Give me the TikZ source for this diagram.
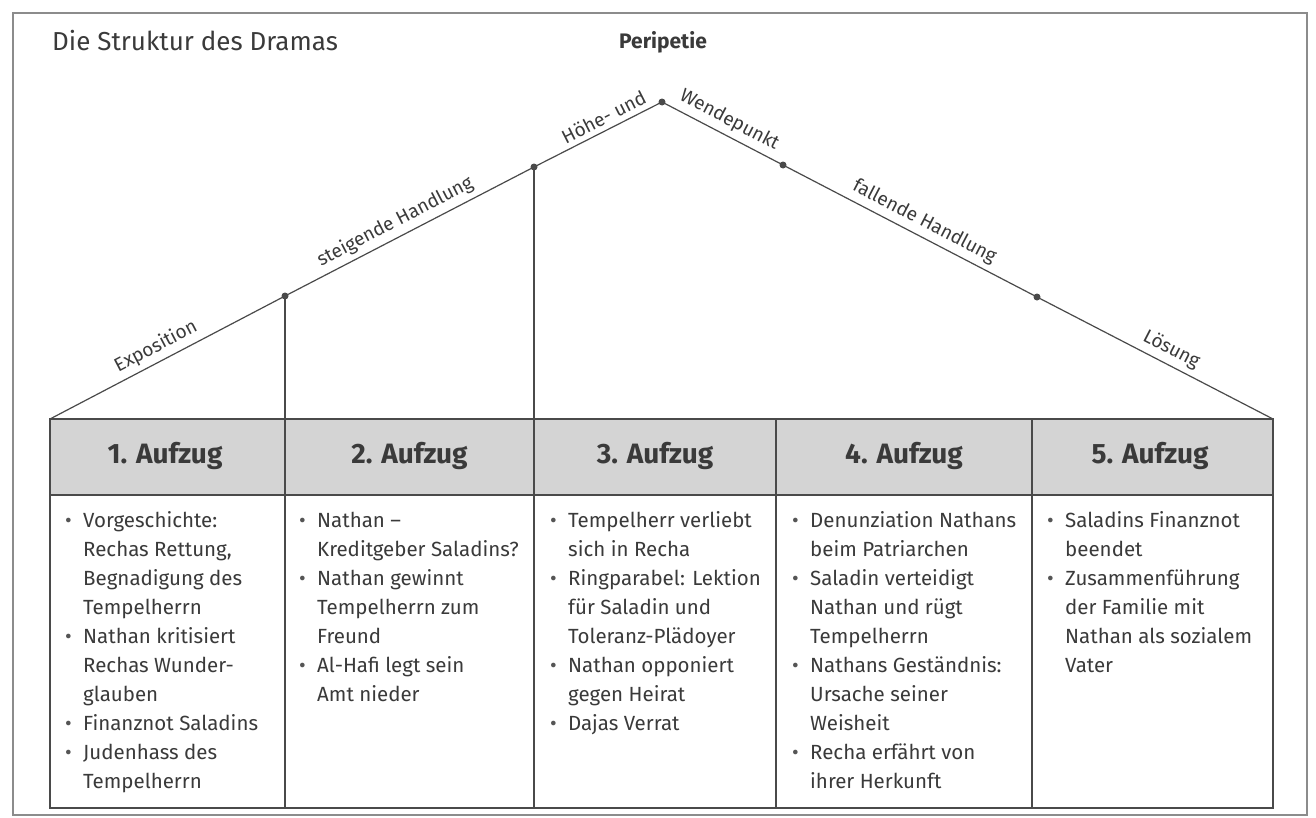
\documentclass[tikz,border=0pt]{standalone}
\usepackage{fontspec}
\setmainfont{Fira Sans}
\definecolor{txt}{HTML}{3A3A3A}
\definecolor{lnc}{HTML}{4A4A4A}
\definecolor{framec}{HTML}{8C8C8C}
\definecolor{headc}{HTML}{D4D4D4}
\definecolor{bulc}{HTML}{555555}
\newcommand\bul{\makebox[18pt][l]{\textcolor{bulc}{•}}}
\newcommand\ind{\hspace*{18pt}}
\newcommand\fst{\rule{0pt}{16pt}}
\tikzset{
  ln/.style={draw=lnc, line width=1.2pt},
  dot/.style={circle, fill=lnc, inner sep=0pt, minimum size=7pt},
  lbl/.style={sloped, above, inner sep=5pt, text=txt, font=\fontsize{19}{21}\selectfont},
  body/.style={anchor=north west, inner sep=0pt, align=left, text=txt, font=\fontsize{20.5}{29}\selectfont},
  hdr/.style={anchor=base, inner sep=0pt, text=txt, font=\fontsize{28}{32}\selectfont\bfseries},
}
\begin{document}
\begin{tikzpicture}[x=1pt,y=-1pt]
\useasboundingbox (0,0) rectangle (1316,817);
\fill[white] (0,0) rectangle (1316,817);
\draw[framec, line width=2.2pt] (13,13) rectangle (1307,815);
% title
\node[anchor=base west, inner sep=0pt, text=txt, font=\fontsize{26}{30}\selectfont] (title) at (52,50) {Die Struktur des Dramas};
\node[anchor=base, inner sep=0pt, text=txt, font=\fontsize{21}{24}\selectfont\bfseries] (peri) at (663,48) {Peripetie};
% table
\coordinate (L) at (50,419);
\coordinate (R) at (1273,419);
\fill[headc] (50,419) rectangle (1273,495);
\draw[ln] (50,419) rectangle (1273,808);
\draw[ln] (50,495) -- (1273,495);
% dots
\node[dot] (d1) at (285,296) {};
\node[dot] (d2) at (534,167) {};
\node[dot] (ap) at (662,102) {};
\node[dot] (d3) at (783,165) {};
\node[dot] (d4) at (1037,297) {};
% column dividers
\draw[ln] (d1.center) -- (285,808);
\draw[ln] (d2.center) -- (534,808);
\draw[ln] (776,419) -- (776,808);
\draw[ln] (1032,419) -- (1032,808);
% slope
\draw[ln] (L) -- node[lbl,pos=.48]{Exposition} (d1.center)
  -- node[lbl,pos=.47]{steigende Handlung} (d2.center)
  -- node[lbl,pos=.59]{Höhe- und} (ap.center)
  -- node[lbl,pos=.5]{Wendepunkt} (d3.center)
  -- node[lbl,pos=.53]{fallende Handlung} (d4.center)
  -- node[lbl,pos=.54]{Lösung} (R);
% headers
\node[hdr] (h1) at (165,463) {1. Aufzug};
\node[hdr] (h2) at (409.5,463) {2. Aufzug};
\node[hdr] (h3) at (655,463) {3. Aufzug};
\node[hdr] (h4) at (904,463) {4. Aufzug};
\node[hdr] (h5) at (1150,463) {5. Aufzug};
% bodies
\node[body] (b1) at (65,511) {\fst\bul Vorgeschichte:\\\ind Rechas Rettung,\\\ind Begnadigung des\\\ind Tempelherrn\\\bul Nathan kritisiert\\\ind Rechas Wunder-\\\ind glauben\\\bul Finanznot Saladins\\\bul Judenhass des\\\ind Tempelherrn};
\node[body] (b2) at (299,511) {\fst\bul Nathan –\\\ind Kreditgeber Saladins?\\\bul Nathan gewinnt\\\ind Tempelherrn zum\\\ind Freund\\\bul Al-Hafi legt sein\\\ind Amt nieder};
\node[body] (b3) at (550,511) {\fst\bul Tempelherr verliebt\\\ind sich in Recha\\\bul Ringparabel: Lektion\\\ind für Saladin und\\\ind Toleranz-Plädoyer\\\bul Nathan opponiert\\\ind gegen Heirat\\\bul Dajas Verrat};
\node[body] (b4) at (792,511) {\fst\bul Denunziation Nathans\\\ind beim Patriarchen\\\bul Saladin verteidigt\\\ind Nathan und rügt\\\ind Tempelherrn\\\bul Nathans Geständnis:\\\ind Ursache seiner\\\ind Weisheit\\\bul Recha erfährt von\\\ind ihrer Herkunft};
\node[body] (b5) at (1047,511) {\fst\bul Saladins Finanznot\\\ind beendet\\\bul Zusammenführung\\\ind der Familie mit\\\ind Nathan als sozialem\\\ind Vater};
\end{tikzpicture}
\end{document}
